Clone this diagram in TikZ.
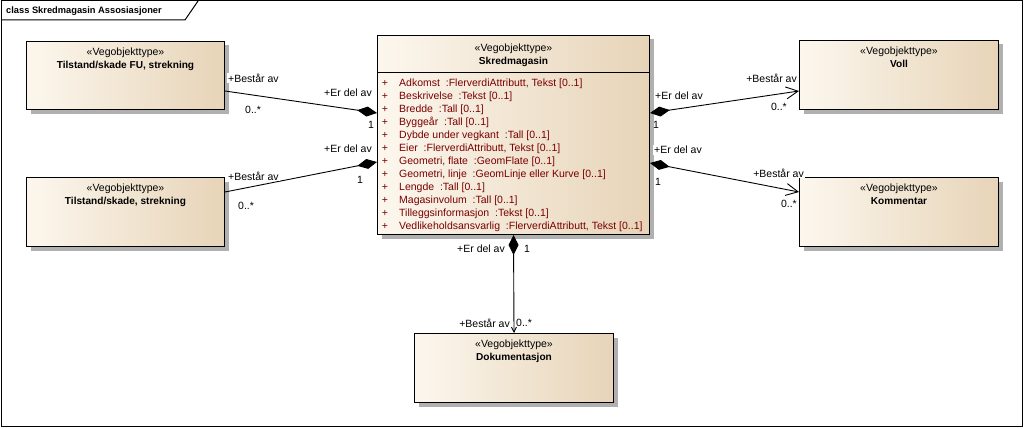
\documentclass[tikz,border=0pt]{standalone}
\usepackage{fontspec}
\setmainfont{Liberation Sans}
\usetikzlibrary{arrows.meta,shadows}
\definecolor{boxl}{HTML}{FCF7EE}
\definecolor{boxr}{HTML}{E7D4B8}
\definecolor{shade}{HTML}{B0B0B0}
\definecolor{attrcol}{HTML}{7A0000}
\newcommand\nm[1]{{\fontsize{10.1}{13}\selectfont\textbf{#1}}}
\begin{document}
\begin{tikzpicture}[x=1pt,y=-1pt,
                    every node/.style={font=\fontsize{10.5}{13}\selectfont,inner sep=0pt},
                    cls/.style={draw,line width=1pt,left color=boxl,right color=boxr,
                                anchor=north west,minimum width=198pt,minimum height=68pt,
                                drop shadow={shadow xshift=4pt,shadow yshift=-4pt,fill=shade,opacity=1}},
                    hdr/.style={anchor=north,align=center},
                    attr/.style={anchor=base west,text=attrcol},
                    role/.style={fill=white,inner sep=1pt},
                    part/.style={line width=.9pt,{Diamond[length=20pt,width=10pt]}-},
                    partto/.style={line width=.9pt,{Diamond[length=20pt,width=10pt]}-{Straight Barb[length=12pt,width=12pt]}},
                    partdn/.style={line width=.9pt,{Diamond[length=20pt,width=10pt]}-{Straight Barb[length=5pt,width=5pt]}}]
 \useasboundingbox (0,0) rectangle (1024,428);
 \draw[line width=1pt] (1,1) rectangle (1022,426);
 \draw[line width=1pt] (1,20) -- (185,20) -- (198,1);
 \node[anchor=west,font=\fontsize{9.3}{11}\selectfont] (title) at (6,11.5) {\textbf{class Skredmagasin Assosiasjoner}};

 \node[cls] (tilfu) at (26,41) {};
 \node[cls,minimum height=69pt] (tilst) at (26,177) {};
 \node[cls,minimum width=272pt,minimum height=199pt] (skred) at (377,35) {};
 \node[cls,minimum width=199pt,minimum height=69pt] (voll) at (799,40) {};
 \node[cls,minimum width=199pt,minimum height=69pt] (komm) at (799,177) {};
 \node[cls,minimum width=199pt,minimum height=69pt] (dok) at (414,333) {};

 \node[hdr] (tilfu-t) at ([yshift=-6.5pt]tilfu.north) {«Vegobjekttype»\\\nm{Tilstand/skade FU, strekning}};
 \node[hdr] (tilst-t) at ([yshift=-6.5pt]tilst.north) {«Vegobjekttype»\\\nm{Tilstand/skade, strekning}};
 \node[hdr] (skred-t) at ([yshift=-8.5pt]skred.north) {«Vegobjekttype»\\\nm{Skredmagasin}};
 \node[hdr] (voll-t) at ([yshift=-6.5pt]voll.north) {«Vegobjekttype»\\\nm{Voll}};
 \node[hdr] (komm-t) at ([yshift=-6.5pt]komm.north) {«Vegobjekttype»\\\nm{Kommentar}};
 \node[hdr] (dok-t) at ([yshift=-6.5pt]dok.north) {«Vegobjekttype»\\\nm{Dokumentasjon}};

 \draw[line width=1pt] ([yshift=-37.7pt]skred.north west) -- ([yshift=-37.7pt]skred.north east);
 \foreach \a [count=\i] in {{Adkomst\ \ :FlerverdiAttributt, Tekst [0..1]},
                            {Beskrivelse\ \ :Tekst [0..1]},
                            {Bredde\ \ :Tall [0..1]},
                            {Byggeår\ \ :Tall [0..1]},
                            {Dybde under vegkant\ \ :Tall [0..1]},
                            {Eier\ \ :FlerverdiAttributt, Tekst [0..1]},
                            {Geometri, flate\ \ :GeomFlate [0..1]},
                            {Geometri, linje\ \ :GeomLinje eller Kurve [0..1]},
                            {Lengde\ \ :Tall [0..1]},
                            {Magasinvolum\ \ :Tall [0..1]},
                            {Tilleggsinformasjon\ \ :Tekst [0..1]},
                            {Vedlikeholdsansvarlig\ \ :FlerverdiAttributt, Tekst [0..1]}}
 {
  \node[attr,anchor=base] (plus\i) at (385,{73.2+13*\i}) {+};
  \node[attr] (attr\i) at (399,{73.2+13*\i}) {\a};
 }

 \draw[part] ([yshift=-78pt]skred.north west) -- ([yshift=-50pt]tilfu.north east);
 \draw[part] ([yshift=-127pt]skred.north west) -- ([yshift=-15pt]tilst.north east);
 \draw[partto] ([yshift=-78pt]skred.north east) -- ([yshift=-51pt]voll.north west);
 \draw[partto] ([yshift=-128pt]skred.north east) -- ([yshift=-15pt]komm.north west);
 \draw[partdn] (skred.south) -- (dok.north);

 \node[role,anchor=west] (r1) at (227,78) {+Består av};
 \node[anchor=west] (m1) at (245,110) {0..*};
 \node[role,anchor=east] (r2) at (373,93) {+Er del av};
 \node (m2) at (371,125) {1};

 \node[role,anchor=east] (r3) at (373,149) {+Er del av};
 \node (m3) at (360,180) {1};
 \node[role,anchor=west] (r4) at (227,176) {+Består av};
 \node[anchor=west] (m4) at (238,206) {0..*};

 \node[role,anchor=west] (r5) at (654,96) {+Er del av};
 \node (m5) at (656,125) {1};
 \node[role,anchor=east] (r6) at (798,78) {+Består av};
 \node[anchor=east] (m6) at (787,107) {0..*};

 \node[role,anchor=west] (r7) at (653,150) {+Er del av};
 \node (m7) at (658,182) {1};
 \node[role,anchor=east] (r8) at (805,173) {+Består av};
 \node[anchor=east] (m8) at (797,204) {0..*};

 \node[role,anchor=east] (r9) at (506,249) {+Er del av};
 \node (m9) at (527,249) {1};
 \node[role,anchor=east] (r10) at (511,323) {+Består av};
 \node[anchor=west] (m10) at (516,323) {0..*};
\end{tikzpicture}
\end{document}
